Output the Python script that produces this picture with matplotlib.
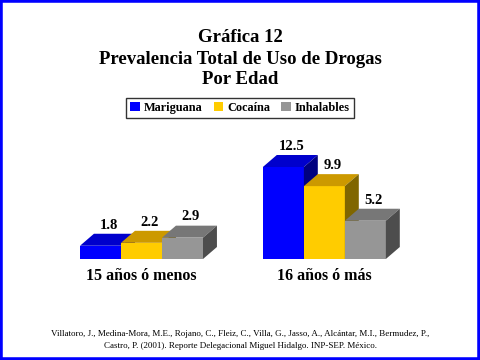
"""
Grafica 12: prevalencia total de uso de drogas por edad (3D-style bars).
"""
import matplotlib
matplotlib.use("Agg")
import matplotlib.pyplot as plt
from matplotlib.patches import Polygon, Patch, Rectangle

plt.rcParams["font.family"] = ["Liberation Serif", "DejaVu Serif"]

# ---------------------------------------------------------------------
# Data
# ---------------------------------------------------------------------
groups = ["15 años ó menos", "16 años ó más"]
series = ["Mariguana", "Cocaína", "Inhalables"]
mariguana = [1.8, 12.5]
cocaina = [2.2, 9.9]
inhalables = [2.9, 5.2]

title_lines = ["Gráfica 12", "Prevalencia Total de Uso de Drogas", "Por Edad"]
source = ("Villatoro, J., Medina-Mora, M.E., Rojano, C., Fleiz, C., Villa, G., "
          "Jasso, A., Alcántar, M.I., Bermudez, P.,\n"
          "Castro, P. (2001). Reporte Delegacional Miguel Hidalgo. INP-SEP. México.")

# front / top / side shades per series
colors = {
    "Mariguana": ("#0000FF", "#0000CC", "#000080"),
    "Cocaína": ("#FFCC00", "#CC9900", "#806600"),
    "Inhalables": ("#969696", "#777777", "#4D4D4D"),
}

# ---------------------------------------------------------------------
# Layout
# ---------------------------------------------------------------------
fig = plt.figure(figsize=(4.8, 3.6), dpi=100)
ax = fig.add_axes([80 / 480, 101 / 360, 320 / 480, 109 / 360])
ax.set_xlim(0, 320 / 41)
ax.set_ylim(0, 109 / 7.36)
ax.axis("off")

group_start = [0.0, 4.46]
depth_x, depth_y = 0.34, 1.63
values = [mariguana, cocaina, inhalables]


def bar3d(ax, x0, h, cols):
    front, top, side = cols
    x1 = x0 + 1
    ax.add_patch(Polygon([(x0, 0), (x1, 0), (x1, h), (x0, h)],
                         closed=True, fc=front, lw=0, clip_on=False))
    ax.add_patch(Polygon([(x0, h), (x1, h), (x1 + depth_x, h + depth_y),
                          (x0 + depth_x, h + depth_y)],
                         closed=True, fc=top, lw=0, clip_on=False))
    ax.add_patch(Polygon([(x1, 0), (x1 + depth_x, depth_y),
                          (x1 + depth_x, h + depth_y), (x1, h)],
                         closed=True, fc=side, lw=0, clip_on=False))


for g, start in enumerate(group_start):
    for s, name in enumerate(series):
        x0 = start + s
        h = values[s][g]
        bar3d(ax, x0, h, colors[name])
        ax.text(x0 + 0.5 + depth_x * 0.6, h + depth_y + 0.3, f"{h:.1f}",
                ha="center", va="bottom", fontsize=10.5, fontweight="bold",
                clip_on=False)
    ax.text(start + 1.5, -2.3, groups[g], ha="center", va="center",
            fontsize=11.5, fontweight="bold", clip_on=False)

# ---------------------------------------------------------------------
# Titles, legend, source, border
# ---------------------------------------------------------------------
for i, line in enumerate(title_lines):
    fig.text(0.5, 1 - (38 + 21 * i) / 360, line, ha="center", va="center",
             fontsize=13.5, fontweight="bold")

handles = [Patch(fc=colors[n][0], ec="none", label=n) for n in series]
leg = fig.legend(handles=handles, loc="center", bbox_to_anchor=(0.5, 1 - 108 / 360),
                 ncol=3, frameon=True, fancybox=False, edgecolor="black",
                 handlelength=0.8, handleheight=0.8, handletextpad=0.3,
                 columnspacing=0.9, borderpad=0.35,
                 prop={"weight": "bold", "size": 8.8})
leg.get_frame().set_linewidth(1.0)

fig.text(0.5, 1 - 340 / 360, source, ha="center", va="center",
         fontsize=6.5, linespacing=1.5)

fig.patches.append(Rectangle((0, 0), 1, 1, transform=fig.transFigure,
                             fill=False, ec="#0000FF", lw=4, zorder=10))

fig.savefig("out.png", dpi=100)
